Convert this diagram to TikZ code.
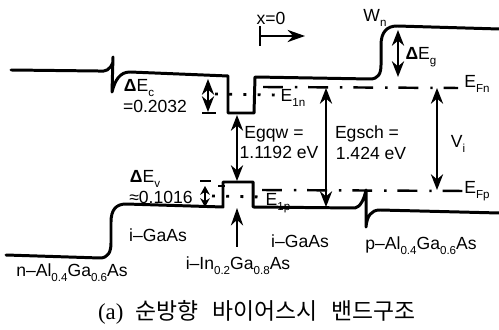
\documentclass[tikz,border=0pt]{standalone}
\usepackage{fontspec}
\setmainfont{Liberation Sans}
\newfontfamily\krfont{Noto Sans CJK KR}
\newfontfamily\capfont{Liberation Serif}
\usetikzlibrary{calc, arrows.meta}
\newcommand{\lowsub}[1]{\raisebox{-0.55ex}{\fontsize{6.6}{8}\selectfont #1}}

\begin{document}
\begin{tikzpicture}[x=0.02cm, y=-0.02cm,
    band/.style={line width=1.7pt, line cap=round, line join=round},
    level/.style={line width=1.4pt, dash pattern=on 11.3pt off 6.8pt on 1.4pt off 6.2pt},
    sublevel/.style={line width=1.6pt, dash pattern=on 1.6pt off 6.5pt},
    arrowline/.style={line width=0.9pt, -{Stealth[length=10pt, width=7pt]}},
    twoway/.style={line width=0.9pt, {Stealth[length=9pt, width=7pt]}-{Stealth[length=9pt, width=7pt]}},
    shortway/.style={line width=0.9pt, {Stealth[length=5pt, width=5.5pt]}-{Stealth[length=5pt, width=5.5pt]}},
    bar/.style={line width=1.6pt},
    label/.style={inner sep=0pt, font=\fontsize{10}{12}\selectfont}]
  \useasboundingbox (0,0) rectangle (499,330);

  % conduction band
  \draw[band] (11,70) -- (98,71) .. controls (106,72) and (110,70) .. (113,62)
    -- (113,57) -- (112,92) .. controls (115,80) and (120,72) .. (130,72)
    -- (228,76) -- (228,113) -- (254,113) -- (255,77) -- (370,79)
    .. controls (378,79) and (381,74) .. (381,65) -- (381,45)
    .. controls (381,32) and (387,26) .. (397,26) -- (499,29);
  % valence band
  \draw[band] (6,255) -- (100,258) .. controls (108,258) and (111,252) .. (111,243)
    -- (111,222) .. controls (111,210) and (116,204) .. (126,204)
    -- (223,207) -- (223,182) -- (253,182) -- (253,207) -- (355,208)
    .. controls (360,207) and (364,200) .. (366,190) -- (366,227)
    .. controls (367,216) and (371,210) .. (380,210) -- (499,213);

  % quasi fermi levels
  \draw[level] (263,87) -- (458,88);
  \draw[level] (262,190) -- (463,191);
  \draw[bar] (218,186) -- (225,186);
  \draw[bar] (200,181) -- (211,181);
  \draw[sublevel] (215,94) -- (278,95);
  \draw[sublevel] (212,196) -- (262,197);

  \coordinate (dec top) at (208,79);
  \coordinate (dec bot) at (208,112);
  \coordinate (gqw top) at (237,115);
  \coordinate (gqw bot) at (237,181);
  \coordinate (gsch top) at (326,88);
  \coordinate (gsch bot) at (326,207);
  \coordinate (vi top) at (437,88);
  \coordinate (vi bot) at (437,190);
  \coordinate (deg top) at (398,30);
  \coordinate (deg bot) at (398,77);
  \coordinate (dev top) at (205,186);
  \coordinate (dev bot) at (205,207);
  \coordinate (well in) at (237,247);
  \coordinate (well out) at (237,208);
  \coordinate (origin) at (260,36);
  \coordinate (xdir) at (305,36);

  \draw[twoway] (dec top) -- (dec bot);
  \draw[bar] (202,113) -- (216,113);
  \draw[twoway] (gqw top) -- (gqw bot);
  \draw[twoway] (gsch top) -- (gsch bot);
  \draw[twoway] (vi top) -- (vi bot);
  \draw[twoway] (deg top) -- (deg bot);
  \draw[shortway] (dev top) -- (dev bot);
  \draw[arrowline] (well in) -- (well out);
  \draw[arrowline] (origin) -- (xdir);
  \draw[line width=1pt] (260,26) -- (260,46);

  \node[label] (xzero) at (271,18) {x=0};
  \node[label] (wn) at (375,18) {W\lowsub{n}};
  \node[label] (eg) at (421,57) {\textbf{Δ}E\lowsub{g}};
  \node[label] (efn) at (477,84) {E\lowsub{Fn}};
  \node[label] (efp) at (477,191) {E\lowsub{Fp}};
  \node[label] (vi) at (458,144) {V\lowsub{i}};
  \node[label] (e1n) at (293,98) {E\lowsub{1n}};
  \node[label] (e1p) at (278,203) {E\lowsub{1p}};
  \node[label] (egqw) at (274,134) {Egqw =};
  \node[label] (gqwval) at (279,152) {1.1192 eV};
  \node[label] (egsch) at (367,134) {Egsch =};
  \node[label] (gschval) at (371,153) {1.424 eV};
  \node[label] (dec) at (139,88) {\textbf{Δ}E\lowsub{c}};
  \node[label] (decval) at (155,106) {=0.2032};
  \node[label] (dev) at (145,179) {\textbf{Δ}E\lowsub{v}};
  \node[label] (devval) at (161,197) {≈0.1016};
  \node[label] (gaasl) at (158,235) {i--GaAs};
  \node[label] (gaasr) at (300,241) {i--GaAs};
  \node[label] (nclad) at (72,273) {n--Al\lowsub{0.4}Ga\lowsub{0.6}As};
  \node[label] (pclad) at (421,246) {p--Al\lowsub{0.4}Ga\lowsub{0.6}As};
  \node[label] (qwell) at (238,266) {i--In\lowsub{0.2}Ga\lowsub{0.8}As};
  \node[inner sep=0pt, font=\fontsize{13}{15}\selectfont] (caption) at (257,312)
       {{\capfont (a)}\hspace{7pt}{\krfont 순방향\hspace{8pt}바이어스시\hspace{8pt}밴드구조}};
\end{tikzpicture}
\end{document}
